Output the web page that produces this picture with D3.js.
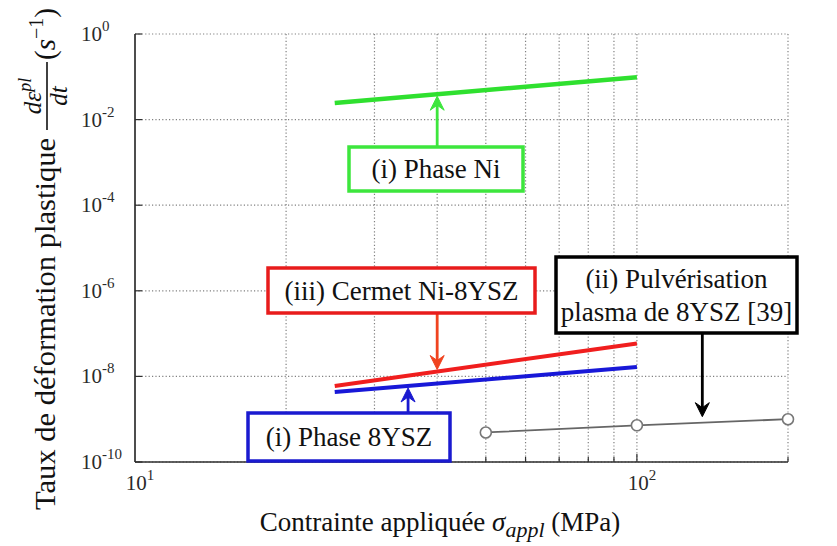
<!DOCTYPE html>
<html lang="fr">
<head>
  <meta charset="UTF-8">
  <title>Taux de déformation plastique</title>
  <style>
    body {
      margin: 0;
      padding: 0;
      background-color: #ffffff;
    }

    text {
      font-family: 'Liberation Serif', 'DejaVu Serif', serif;
    }

    .grid line {
      stroke: #808080;
      stroke-width: 1.2;
      stroke-dasharray: 1.2, 2.2;
    }

    .axis-line {
      stroke: #2e2e2e;
      stroke-width: 1.7;
    }

    .tick-label {
      font-size: 21px;
      fill: #2a2a2a;
    }

    .note {
      font-size: 27px;
      fill: #111;
    }
  </style>
</head>
<body>

  <div id="chart"></div>

  <script src="https://d3js.org/d3.v7.min.js"></script>
  <script>
    // values (stress in MPa, rate in 1/s)
    const stress = [25, 100];
    const phaseNi = [0.0245, 0.098];
    const cermetNi8YSZ = [6.0e-9, 5.9e-8];
    const phase8YSZ = [4.3e-9, 1.66e-8];
    const plasmaStress = [50, 100, 200];
    const plasma8YSZ = [4.9e-10, 7.2e-10, 1.0e-9];

    const yTicks = [1, 1e-2, 1e-4, 1e-6, 1e-8, 1e-10];
    const xTicks = [10, 100];
    const xGrid = [20, 30, 40, 50, 60, 70, 80, 90, 100, 200];

    const width = 837;
    const height = 546;
    const serif = "'Liberation Serif', 'DejaVu Serif', serif";

    const x = d3.scaleLog().domain([10, 200]).range([135, 788]);
    const y = d3.scaleLog().domain([1e-10, 1]).range([462, 34]);

    const svg = d3.select('#chart').append('svg')
      .attr('width', width)
      .attr('height', height)
      .attr('font-family', serif);

    // grid
    const grid = svg.append('g').attr('class', 'grid');
    grid.selectAll('.gx')
      .data(xGrid)
      .enter().append('line')
      .attr('x1', d => x(d)).attr('x2', d => x(d))
      .attr('y1', y(1)).attr('y2', y(1e-10));
    grid.selectAll('.gy')
      .data(yTicks)
      .enter().append('line')
      .attr('x1', x(10)).attr('x2', x(200))
      .attr('y1', d => y(d)).attr('y2', d => y(d));

    // axes (left + bottom only, box off)
    svg.append('line').attr('class', 'axis-line')
      .attr('x1', x(10)).attr('x2', x(10))
      .attr('y1', y(1)).attr('y2', y(1e-10));
    svg.append('line').attr('class', 'axis-line')
      .attr('x1', x(10)).attr('x2', x(200))
      .attr('y1', y(1e-10)).attr('y2', y(1e-10));

    // tick marks
    svg.selectAll('.xtick')
      .data(xGrid)
      .enter().append('line')
      .attr('class', 'axis-line')
      .style('stroke-width', 1.2)
      .attr('x1', d => x(d)).attr('x2', d => x(d))
      .attr('y1', y(1e-10)).attr('y2', d => y(1e-10) - (d === 100 ? 8 : 5));
    svg.selectAll('.ytick')
      .data(yTicks)
      .enter().append('line')
      .attr('class', 'axis-line')
      .style('stroke-width', 1.2)
      .attr('x1', x(10)).attr('x2', x(10) + 7)
      .attr('y1', d => y(d)).attr('y2', d => y(d));

    // tick labels 10^n
    function powerLabel(sel, v) {
      const e = Math.round(Math.log10(v));
      sel.append('tspan').text('10');
      sel.append('tspan')
        .attr('dy', -10)
        .style('font-size', '15px')
        .text(e < 0 ? '-' + (-e) : String(e));
    }

    yTicks.forEach(v => {
      svg.append('text')
        .attr('class', 'tick-label')
        .attr('font-family', serif)
        .attr('x', 81)
        .attr('y', y(v) + 7)
        .call(powerLabel, v);
    });

    xTicks.forEach(v => {
      svg.append('text')
        .attr('class', 'tick-label')
        .attr('font-family', serif)
        .attr('x', x(v) + 5)
        .attr('y', 490)
        .attr('text-anchor', 'middle')
        .call(powerLabel, v);
    });

    // axis titles
    const xTitle = svg.append('text')
      .attr('font-family', serif)
      .attr('x', 440)
      .attr('y', 531)
      .attr('text-anchor', 'middle')
      .style('font-size', '27px')
      .style('fill', '#111');
    xTitle.append('tspan').text('Contrainte appliquée ');
    xTitle.append('tspan').style('font-style', 'italic').text('σ');
    xTitle.append('tspan').attr('dy', 6).style('font-style', 'italic').style('font-size', '22px').text('appl');
    xTitle.append('tspan').attr('dy', -6).text(' (MPa)');

    // rotated y title: (u, v) -> page (55 + v, -u)
    const yTitle = svg.append('g')
      .attr('transform', 'translate(55,0) rotate(-90)')
      .attr('font-family', serif)
      .style('fill', '#111');
    yTitle.append('text')
      .attr('x', -510).attr('y', 0)
      .attr('textLength', 372)
      .attr('lengthAdjust', 'spacingAndGlyphs')
      .style('font-size', '29px')
      .text('Taux de déformation plastique');
    const num = yTitle.append('text')
      .attr('x', -96).attr('y', -14)
      .attr('text-anchor', 'middle')
      .style('font-style', 'italic')
      .style('font-size', '25px');
    num.append('tspan').text('dε');
    num.append('tspan').attr('dy', -10).style('font-size', '18px').text('pl');
    yTitle.append('line')
      .attr('x1', -130).attr('x2', -62)
      .attr('y1', -8).attr('y2', -8)
      .style('stroke', '#111').style('stroke-width', 1.6);
    yTitle.append('text')
      .attr('x', -96).attr('y', 12)
      .attr('text-anchor', 'middle')
      .style('font-style', 'italic')
      .style('font-size', '25px')
      .text('dt');
    const unit = yTitle.append('text')
      .attr('x', -60).attr('y', 0)
      .style('font-size', '29px');
    unit.append('tspan').text('(');
    unit.append('tspan').style('font-style', 'italic').text('s');
    unit.append('tspan').attr('dy', -12).style('font-size', '20px').text('−1');
    unit.append('tspan').attr('dy', 12).text(')');

    // series
    const line = d3.line().x(d => x(d[0])).y(d => y(d[1]));

    const series = [
      { name: 'ni', xs: stress, ys: phaseNi, color: '#2fe02f', w: 4.5 },
      { name: 'cermet', xs: stress, ys: cermetNi8YSZ, color: '#f01e1e', w: 4 },
      { name: '8ysz', xs: stress, ys: phase8YSZ, color: '#1818d8', w: 4 }
    ];

    series.forEach(s => {
      svg.append('path')
        .datum(d3.zip(s.xs, s.ys))
        .attr('d', line)
        .attr('fill', 'none')
        .attr('stroke', s.color)
        .attr('stroke-width', s.w);
    });

    const plasmaPts = d3.zip(plasmaStress, plasma8YSZ);
    svg.append('path')
      .datum(plasmaPts)
      .attr('d', line)
      .attr('fill', 'none')
      .attr('stroke', '#666')
      .attr('stroke-width', 1.8);
    svg.selectAll('.pt')
      .data(plasmaPts)
      .enter().append('circle')
      .attr('cx', d => x(d[0]))
      .attr('cy', d => y(d[1]))
      .attr('r', 5.5)
      .attr('fill', '#fff')
      .attr('stroke', '#777')
      .attr('stroke-width', 1.6);

    // value of a series at stress s (log-log), used to place the arrow tips
    function rateAt(xs, ys, s) {
      let i = 0;
      while (i < xs.length - 2 && s > xs[i + 1]) i++;
      const t = (Math.log(s) - Math.log(xs[i])) / (Math.log(xs[i + 1]) - Math.log(xs[i]));
      return Math.exp(Math.log(ys[i]) + t * (Math.log(ys[i + 1]) - Math.log(ys[i])));
    }

    // annotation boxes + arrows
    const notes = [
      { lines: ['(i) Phase Ni'], box: [349, 147, 523, 191], color: '#3de63d', arrow: '#3de63d',
        at: 40, xs: stress, ys: phaseNi, gap: 2 },
      { lines: ['(iii) Cermet Ni-8YSZ'], box: [268, 268, 535, 313], color: '#e81c1c', arrow: '#f0431f',
        at: 40, xs: stress, ys: cermetNi8YSZ, gap: -2 },
      { lines: ['(ii) Pulvérisation', 'plasma de 8YSZ [39]'], box: [556, 257, 797, 333], color: '#000', arrow: '#000',
        at: 135, xs: plasmaStress, ys: plasma8YSZ, gap: -6 },
      { lines: ['(i) Phase 8YSZ'], box: [248, 413, 450, 461], color: '#1a1ad0', arrow: '#1a1ad0',
        at: 35, xs: stress, ys: phase8YSZ, gap: 2 }
    ];

    notes.forEach(n => {
      const [x0, y0, x1, y1] = n.box;
      const ax = x(n.at);
      const tipY = y(rateAt(n.xs, n.ys, n.at)) + n.gap;
      const up = tipY < y0;
      const startY = up ? y0 : y1;
      const dir = up ? 1 : -1;

      svg.append('line')
        .attr('x1', ax).attr('x2', ax)
        .attr('y1', startY).attr('y2', tipY + dir * 7)
        .attr('stroke', n.arrow)
        .attr('stroke-width', 2.8);
      svg.append('path')
        .attr('d', `M${ax},${tipY} L${ax - 7},${tipY + dir * 14} L${ax},${tipY + dir * 9} L${ax + 7},${tipY + dir * 14} Z`)
        .attr('fill', n.arrow)
        .attr('stroke', n.arrow)
        .attr('stroke-width', 1);

      svg.append('rect')
        .attr('x', x0).attr('y', y0)
        .attr('width', x1 - x0).attr('height', y1 - y0)
        .attr('fill', '#fff')
        .attr('stroke', n.color)
        .attr('stroke-width', 3.5);

      const cy = (y0 + y1) / 2;
      const lh = 33;
      n.lines.forEach((t, i) => {
        svg.append('text')
          .attr('class', 'note')
          .attr('font-family', serif)
          .attr('x', (x0 + x1) / 2)
          .attr('y', cy + 9 + (i - (n.lines.length - 1) / 2) * lh)
          .attr('text-anchor', 'middle')
          .text(t);
      });
    });
  </script>
</body>
</html>
